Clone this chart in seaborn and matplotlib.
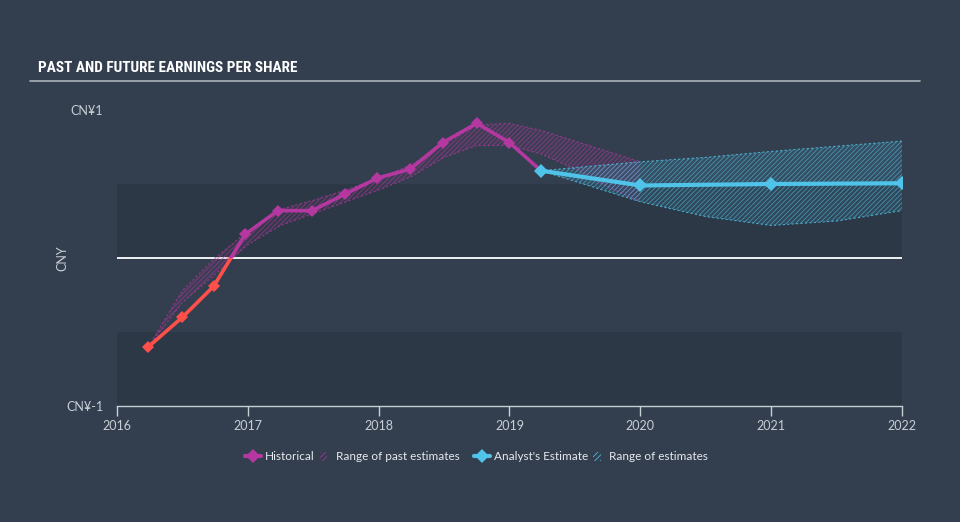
import matplotlib
matplotlib.use("Agg")
import matplotlib.pyplot as plt
import seaborn as sns
import pandas as pd
from matplotlib.patches import Rectangle, Patch
from matplotlib.lines import Line2D
from matplotlib.legend_handler import HandlerPatch

# ---------------- data ----------------
hist_year = [2016.24, 2016.50, 2016.74, 2016.98, 2017.23, 2017.49, 2017.74, 2017.99,
             2018.24, 2018.49, 2018.75, 2019.00, 2019.24]
hist_eps = [-0.60, -0.40, -0.19, 0.16, 0.32, 0.32, 0.43, 0.54,
            0.60, 0.78, 0.91, 0.78, 0.59]

past_range_year = [2016.24, 2016.50, 2016.75, 2017.00, 2017.25, 2017.50, 2017.75, 2018.00,
                   2018.25, 2018.50, 2018.75, 2019.00, 2019.25, 2019.50, 2019.75, 2020.00]
past_range_hi = [-0.60, -0.22, 0.00, 0.18, 0.33, 0.39, 0.46, 0.54,
                 0.63, 0.77, 0.90, 0.91, 0.86, 0.79, 0.72, 0.65]
past_range_lo = [-0.60, -0.30, -0.11, 0.09, 0.22, 0.30, 0.38, 0.46,
                 0.55, 0.68, 0.76, 0.76, 0.70, 0.60, 0.48, 0.38]

fc_year = [2019.24, 2020.0, 2021.0, 2022.0]
fc_eps = [0.59, 0.49, 0.50, 0.505]

fc_range_year = [2019.24, 2020.0, 2020.5, 2021.0, 2021.5, 2022.0]
fc_range_hi = [0.59, 0.65, 0.68, 0.72, 0.755, 0.79]
fc_range_lo = [0.59, 0.38, 0.28, 0.22, 0.25, 0.32]

year_ticks = [2016, 2017, 2018, 2019, 2020, 2021, 2022]
y_ticks = [-1, 1]
y_tick_labels = ["CN¥-1", "CN¥1"]
dark_bands = [(0.0, 0.5), (-1.0, -0.5)]

# ---------------- style ----------------
BG = "#333f4f"
BAND = "#2c3846"
PURPLE = "#b4389f"
RED = "#ff4f4a"
CYAN = "#4fc3e8"
TXT = "#c9ced5"
PURPLE_H = (0.71, 0.22, 0.62, 0.6)
CYAN_H = (0.31, 0.76, 0.91, 0.6)

sns.set_style("dark", rc={"axes.facecolor": BG, "figure.facecolor": BG})
plt.rcParams["font.family"] = ["Lato", "DejaVu Sans"]
plt.rcParams["hatch.linewidth"] = 0.6

fig = plt.figure(figsize=(9.6, 5.22), dpi=100)
ax = fig.add_axes([117 / 960, (522 - 406) / 522, 785 / 960, 296 / 522])
ax.set_facecolor(BG)

for lo, hi in dark_bands:
    ax.axhspan(lo, hi, color=BAND, lw=0, zorder=0)
ax.axhline(0, color="white", lw=1.3, zorder=1)

# past estimate range
ax.fill_between(past_range_year, past_range_lo, past_range_hi,
                facecolor=(0.71, 0.22, 0.62, 0.08), edgecolor=PURPLE_H,
                hatch="///////", lw=0, zorder=2)
ax.plot(past_range_year, past_range_hi, color=PURPLE, lw=0.8, ls=(0, (2, 2)), alpha=0.7, zorder=2)
ax.plot(past_range_year, past_range_lo, color=PURPLE, lw=0.8, ls=(0, (2, 2)), alpha=0.7, zorder=2)

# forecast range
ax.fill_between(fc_range_year, fc_range_lo, fc_range_hi,
                facecolor=(0.31, 0.76, 0.91, 0.12), edgecolor=CYAN_H,
                hatch="///////", lw=0, zorder=2)
ax.plot(fc_range_year, fc_range_hi, color=CYAN, lw=0.8, ls=(0, (2, 2)), alpha=0.8, zorder=2)
ax.plot(fc_range_year, fc_range_lo, color=CYAN, lw=0.8, ls=(0, (2, 2)), alpha=0.8, zorder=2)

hist_df = pd.DataFrame({"year": hist_year, "eps": hist_eps})
fc_df = pd.DataFrame({"year": fc_year, "eps": fc_eps})

# historical: red below zero, purple above
for color, clip in [(RED, Rectangle((2010, -5), 20, 5)), (PURPLE, Rectangle((2010, 0), 20, 5))]:
    n0 = len(ax.lines)
    sns.lineplot(data=hist_df, x="year", y="eps", ax=ax, color=color, lw=2.6,
                 marker="D", markersize=6.5, markeredgewidth=0, zorder=4)
    ln = ax.lines[n0]
    clip.set_transform(ax.transData)
    ln.set_clip_path(clip)

sns.lineplot(data=fc_df, x="year", y="eps", ax=ax, color=CYAN, lw=3,
             marker="D", markersize=7, markeredgewidth=0, zorder=5)

ax.set_xlim(2016, 2022)
ax.set_ylim(-1, 1)
ax.set_xticks(year_ticks)
ax.set_xticklabels([str(y) for y in year_ticks], color=TXT, fontsize=9)
ax.set_yticks(y_ticks)
ax.set_yticklabels(y_tick_labels, color=TXT, fontsize=9)
ax.tick_params(axis="x", length=7, width=1, color="#c8ced6", pad=3, bottom=True)
ax.tick_params(axis="y", length=0, pad=10)
ax.set_xlabel("")
ax.set_ylabel("")
for s in ["top", "right", "left"]:
    ax.spines[s].set_visible(False)
ax.spines["bottom"].set_color("#c8ced6")
ax.spines["bottom"].set_linewidth(1)
ax.grid(False)

fig.text(62 / 960, 1 - 258 / 522, "CNY", rotation=90, ha="center", va="center",
         color=TXT, fontsize=9)

fig.text(38 / 960, 1 - 68 / 522, "PAST AND FUTURE EARNINGS PER SHARE", ha="left", va="center",
         color="white", fontsize=11, fontweight="bold", fontstretch="condensed",
         family=["Roboto Condensed", "DejaVu Sans"])
fig.add_artist(Line2D([30 / 960, 920 / 960], [1 - 81 / 522, 1 - 81 / 522],
                      color="#a9b0b8", lw=1.2, transform=fig.transFigure))


def small_patch(legend, orig_handle, xdescent, ydescent, width, height, fontsize):
    return Rectangle((width * 0.25 - xdescent, -ydescent), width * 0.45, height)


hm = {Patch: HandlerPatch(patch_func=small_patch)}
h1 = [Line2D([0], [0], color=PURPLE, lw=3, marker="D", ms=7, mew=0),
      Patch(facecolor="none", edgecolor=(0.71, 0.22, 0.62, 0.8), hatch="//////", lw=0)]
h2 = [Line2D([0], [0], color=CYAN, lw=3, marker="D", ms=7, mew=0),
      Patch(facecolor="none", edgecolor=(0.31, 0.76, 0.91, 0.9), hatch="//////", lw=0)]
kw = dict(ncol=2, frameon=False, fontsize=8.5, labelcolor="#e6e9ee", handlelength=1.4,
          handletextpad=0.3, columnspacing=0.1, loc="center", handler_map=hm)
fig.legend(h1, ["Historical", "Range of past estimates"], bbox_to_anchor=(352 / 960, 1 - 457 / 522), **kw)
fig.legend(h2, ["Analyst's Estimate", "Range of estimates"], bbox_to_anchor=(591 / 960, 1 - 457 / 522), **kw)

fig.savefig("out.png", dpi=100, facecolor=BG)
